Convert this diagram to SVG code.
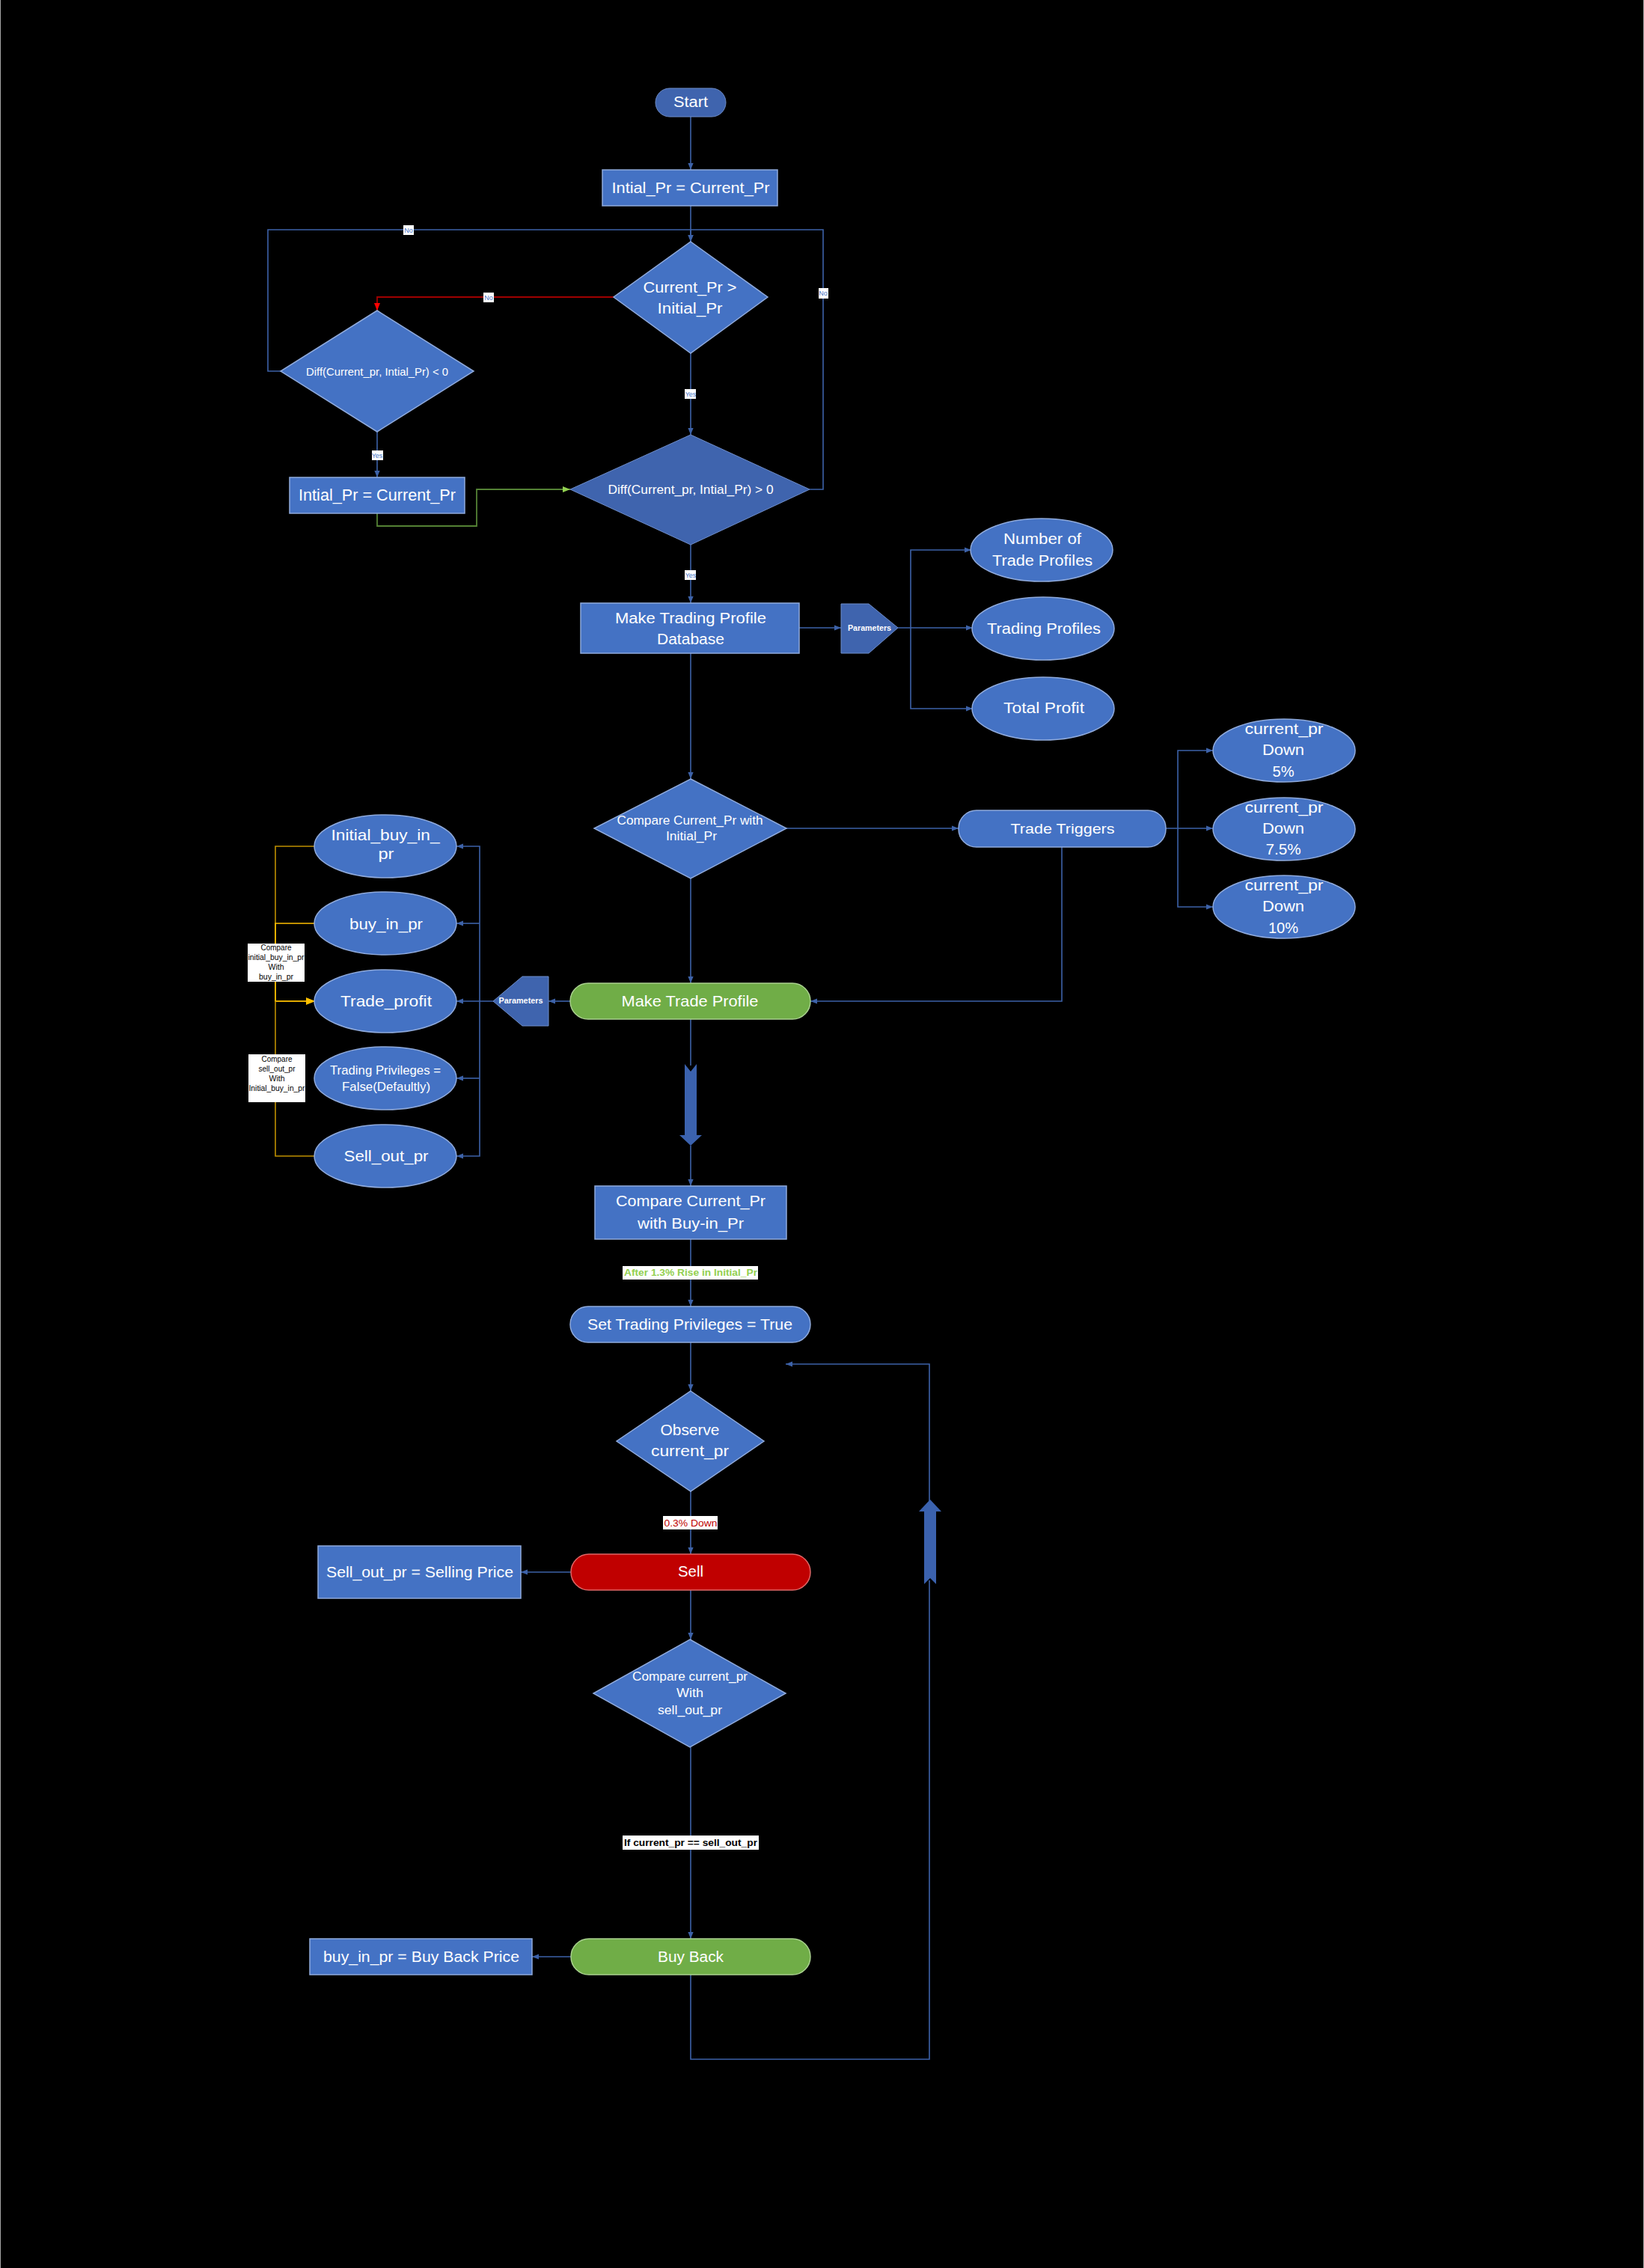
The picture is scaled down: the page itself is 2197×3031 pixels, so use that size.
<svg xmlns="http://www.w3.org/2000/svg" width="2197" height="3031" viewBox="0 0 2197 3031">
<style>
text{font-family:"Liberation Sans","Noto Sans",sans-serif;fill:#fff;text-anchor:middle}
.b{fill:#4472C4;stroke:#8FAADC;stroke-width:1.5}
.d{fill:#3F64AE;stroke:#6F8DC8;stroke-width:1}
.g{fill:#70AD47;stroke:#A9D18E;stroke-width:1.5}
.r{fill:#C00000;stroke:#E06666;stroke-width:1.5}
.c{fill:none;stroke:#3D62A8;stroke-width:1.6}
.lb{fill:#fff;stroke:none}
.s{font-size:10px;font-weight:bold}
.t{fill:#000;font-size:10px}
.n{fill:#4472C4;font-size:9px}
</style>
<defs>
<marker id="ab" viewBox="0 0 10 10" refX="10" refY="5" markerWidth="9" markerHeight="9" markerUnits="userSpaceOnUse" orient="auto"><path d="M0,1 L10,5 L0,9 z" fill="#3D62A8"/></marker>
<marker id="ar" viewBox="0 0 10 10" refX="10" refY="5" markerWidth="10" markerHeight="10" markerUnits="userSpaceOnUse" orient="auto"><path d="M0,1 L10,5 L0,9 z" fill="#FF0000"/></marker>
<marker id="ag" viewBox="0 0 10 10" refX="10" refY="5" markerWidth="10" markerHeight="10" markerUnits="userSpaceOnUse" orient="auto"><path d="M0,1 L10,5 L0,9 z" fill="#92D050"/></marker>
<marker id="ao" viewBox="0 0 10 10" refX="10" refY="5" markerWidth="12" markerHeight="12" markerUnits="userSpaceOnUse" orient="auto"><path d="M0,1 L10,5 L0,9 z" fill="#FFC000"/></marker>
</defs>
<rect x="0" y="0" width="2197" height="3031" fill="#000"/>
<line x1="0.5" y1="0" x2="0.5" y2="3031" stroke="#A6A6A6" stroke-width="1"/>
<line x1="2196.5" y1="0" x2="2196.5" y2="3031" stroke="#A6A6A6" stroke-width="1"/>

<g id="connectors">
<path class="c" d="M923,156 V227" marker-end="url(#ab)"/>
<path class="c" d="M923,275 V323" marker-end="url(#ab)"/>
<path fill="none" stroke="#A00000" stroke-width="1.8" d="M820,397 H504 V415" marker-end="url(#ar)"/>
<path class="c" d="M923,472 V581" marker-end="url(#ab)"/>
<path class="c" d="M375,496 H358 V307 H923 V323" marker-end="url(#ab)"/>
<path class="c" d="M1082,654 H1100 V307 H923"/>
<path class="c" d="M504,577 V638" marker-end="url(#ab)"/>
<path fill="none" stroke="#548235" stroke-width="1.8" d="M504,686 V703 H637 V654 H762" marker-end="url(#ag)"/>
<path class="c" d="M923,728 V806" marker-end="url(#ab)"/>
<path class="c" d="M1068,839 H1124" marker-end="url(#ab)"/>
<path class="c" d="M1200,839 H1300" marker-end="url(#ab)"/>
<path class="c" d="M1217,839 V735 H1298" marker-end="url(#ab)"/>
<path class="c" d="M1217,839 V947 H1300" marker-end="url(#ab)"/>
<path class="c" d="M923,873 V1041" marker-end="url(#ab)"/>
<path class="c" d="M1051,1107 H1281" marker-end="url(#ab)"/>
<path class="c" d="M1558,1107 H1621" marker-end="url(#ab)"/>
<path class="c" d="M1574,1107 V1003 H1621" marker-end="url(#ab)"/>
<path class="c" d="M1574,1107 V1212 H1621" marker-end="url(#ab)"/>
<path class="c" d="M1419,1132 V1338 H1083" marker-end="url(#ab)"/>
<path class="c" d="M923,1174 V1314" marker-end="url(#ab)"/>
<path class="c" d="M762,1338 H733" marker-end="url(#ab)"/>
<path class="c" d="M659,1338 H610" marker-end="url(#ab)"/>
<path class="c" d="M641,1338 V1131 H610" marker-end="url(#ab)"/>
<path class="c" d="M641,1234 H610" marker-end="url(#ab)"/>
<path class="c" d="M641,1338 V1545 H610" marker-end="url(#ab)"/>
<path class="c" d="M641,1441 H610" marker-end="url(#ab)"/>
<path fill="none" stroke="#BF9000" stroke-width="1.6" d="M421,1131 H368 V1338 H421" marker-end="url(#ao)"/>
<path fill="none" stroke="#FFC000" stroke-width="1.6" d="M421,1234 H368 V1338 H421" marker-end="url(#ao)"/>
<path fill="none" stroke="#BF9000" stroke-width="1.6" d="M421,1545 H368 V1338"/>
<path class="c" d="M923,1362 V1424"/>
<path fill="#3B62AE" d="M915,1422 L923,1432 L931,1422 V1517 H938 L923,1531 L908,1517 H915 Z"/>
<path class="c" d="M923,1531 V1585" marker-end="url(#ab)"/>
<path class="c" d="M923,1656 V1746" marker-end="url(#ab)"/>
<path class="c" d="M923,1794 V1859" marker-end="url(#ab)"/>
<path class="c" d="M923,1993 V2077" marker-end="url(#ab)"/>
<path class="c" d="M763,2101 H696" marker-end="url(#ab)"/>
<path class="c" d="M923,2125 V2191" marker-end="url(#ab)"/>
<path class="c" d="M923,2335 V2591" marker-end="url(#ab)"/>
<path class="c" d="M763,2615 H711" marker-end="url(#ab)"/>
<path class="c" d="M923,2639 V2752 H1242 V2112"/>
<path fill="#3B62AE" d="M1235,2117 L1243,2109 L1251,2117 V2020 H1258 L1243,2004 L1228,2020 H1235 Z"/>
<path class="c" d="M1242,2006 V1823 H1050" marker-end="url(#ab)"/>
</g>

<g id="edge-labels">
<rect class="lb" x="539" y="301" width="14" height="13"/><text class="n" x="546" y="311">No</text>
<rect class="lb" x="1094" y="385" width="13" height="14"/><text class="n" x="1100" y="395">No</text>
<rect class="lb" x="646" y="391" width="14" height="13"/><text class="n" x="653" y="401">No</text>
<rect class="lb" x="915" y="520" width="15" height="13"/><text class="n" x="923" y="530">Yes</text>
<rect class="lb" x="497" y="602" width="15" height="13"/><text class="n" x="504" y="612">Yes</text>
<rect class="lb" x="915" y="762" width="15" height="13"/><text class="n" x="923" y="772">Yes</text>
<rect class="lb" x="331" y="1261" width="76" height="51"/>
<text class="t" x="369" y="1270" textLength="41" lengthAdjust="spacingAndGlyphs">Compare</text>
<text class="t" x="369" y="1283" textLength="75" lengthAdjust="spacingAndGlyphs">initial_buy_in_pr</text>
<text class="t" x="369" y="1296" textLength="21" lengthAdjust="spacingAndGlyphs">With</text>
<text class="t" x="369" y="1309" textLength="46" lengthAdjust="spacingAndGlyphs">buy_in_pr</text>
<rect class="lb" x="332" y="1409" width="76" height="64"/>
<text class="t" x="370" y="1419" textLength="41" lengthAdjust="spacingAndGlyphs">Compare</text>
<text class="t" x="370" y="1432" textLength="49" lengthAdjust="spacingAndGlyphs">sell_out_pr</text>
<text class="t" x="370" y="1445" textLength="21" lengthAdjust="spacingAndGlyphs">With</text>
<text class="t" x="370" y="1458" textLength="75" lengthAdjust="spacingAndGlyphs">Initial_buy_in_pr</text>
<rect class="lb" x="832" y="1692" width="181" height="18"/>
<text x="923" y="1705" style="fill:#92D050;font-size:13px;font-weight:bold" textLength="178" lengthAdjust="spacingAndGlyphs">After 1.3% Rise in Initial_Pr</text>
<rect class="lb" x="886" y="2026" width="73" height="18"/>
<text x="923" y="2040" style="fill:#C00000;font-size:13px" textLength="71" lengthAdjust="spacingAndGlyphs">0.3% Down</text>
<rect class="lb" x="832" y="2453" width="182" height="19"/>
<text x="923" y="2467" style="fill:#000;font-size:13px;font-weight:bold" textLength="178" lengthAdjust="spacingAndGlyphs">If current_pr == sell_out_pr</text>
</g>

<g id="start"><rect class="d" x="876" y="118" width="94" height="38" rx="19"/><text x="923" y="143" font-size="20" textLength="46" lengthAdjust="spacingAndGlyphs">Start</text></g>
<g id="init1"><rect class="b" x="805" y="227" width="234" height="48"/><text x="923" y="258" font-size="20" textLength="211" lengthAdjust="spacingAndGlyphs">Intial_Pr = Current_Pr</text></g>
<g id="dec1"><polygon class="b" points="923,323 1026,397 923,472 820,397"/>
<text x="922" y="391" font-size="20" textLength="125" lengthAdjust="spacingAndGlyphs">Current_Pr &gt;</text>
<text x="922" y="419" font-size="20" textLength="87" lengthAdjust="spacingAndGlyphs">Initial_Pr</text></g>
<g id="dec2"><polygon class="b" points="504,415 633,496 504,577 375,496"/>
<text x="504" y="502" font-size="15" textLength="190" lengthAdjust="spacingAndGlyphs">Diff(Current_pr, Intial_Pr) &lt; 0</text></g>
<g id="init2"><rect class="b" x="387" y="638" width="234" height="48"/><text x="504" y="669" font-size="22" textLength="210" lengthAdjust="spacingAndGlyphs">Intial_Pr = Current_Pr</text></g>
<g id="dec3"><polygon class="d" points="923,581 1082,654 923,728 762,654"/>
<text x="923" y="660" font-size="17" textLength="221" lengthAdjust="spacingAndGlyphs">Diff(Current_pr, Intial_Pr) &gt; 0</text></g>
<g id="mtpd"><rect class="b" x="776" y="806" width="292" height="67"/>
<text x="923" y="833" font-size="20" textLength="202" lengthAdjust="spacingAndGlyphs">Make Trading Profile</text>
<text x="923" y="861" font-size="20" textLength="90" lengthAdjust="spacingAndGlyphs">Database</text></g>
<g id="params1"><polygon class="d" points="1124,807 1161,807 1200,839 1161,873 1124,873"/>
<text class="s" x="1162" y="843" textLength="58" lengthAdjust="spacingAndGlyphs">Parameters</text></g>
<g id="e-num"><ellipse class="b" cx="1392" cy="735" rx="95" ry="42"/>
<text x="1393" y="727" font-size="20" textLength="104" lengthAdjust="spacingAndGlyphs">Number of</text>
<text x="1393" y="756" font-size="20" textLength="134" lengthAdjust="spacingAndGlyphs">Trade Profiles</text></g>
<g id="e-tp"><ellipse class="b" cx="1394" cy="840" rx="95" ry="42"/>
<text x="1395" y="847" font-size="20" textLength="152" lengthAdjust="spacingAndGlyphs">Trading Profiles</text></g>
<g id="e-total"><ellipse class="b" cx="1394" cy="947" rx="95" ry="42"/>
<text x="1395" y="953" font-size="20" textLength="108" lengthAdjust="spacingAndGlyphs">Total Profit</text></g>
<g id="dec4"><polygon class="b" points="923,1041 1051,1107 923,1174 794,1107"/>
<text x="922" y="1102" font-size="16" textLength="195" lengthAdjust="spacingAndGlyphs">Compare Current_Pr with</text>
<text x="924" y="1123" font-size="16" textLength="68" lengthAdjust="spacingAndGlyphs">Initial_Pr</text></g>
<g id="triggers"><rect class="b" x="1281" y="1083" width="277" height="49" rx="24"/>
<text x="1420" y="1114" font-size="19" textLength="139" lengthAdjust="spacingAndGlyphs">Trade Triggers</text></g>
<g id="e-5"><ellipse class="b" cx="1716" cy="1003" rx="95" ry="42"/>
<text x="1716" y="981" font-size="20" textLength="105" lengthAdjust="spacingAndGlyphs">current_pr</text>
<text x="1715" y="1009" font-size="20" textLength="56" lengthAdjust="spacingAndGlyphs">Down</text>
<text x="1715" y="1038" font-size="20" textLength="29" lengthAdjust="spacingAndGlyphs">5%</text></g>
<g id="e-75"><ellipse class="b" cx="1716" cy="1108" rx="95" ry="42"/>
<text x="1716" y="1086" font-size="20" textLength="105" lengthAdjust="spacingAndGlyphs">current_pr</text>
<text x="1715" y="1114" font-size="20" textLength="56" lengthAdjust="spacingAndGlyphs">Down</text>
<text x="1715" y="1142" font-size="20" textLength="47" lengthAdjust="spacingAndGlyphs">7.5%</text></g>
<g id="e-10"><ellipse class="b" cx="1716" cy="1212" rx="95" ry="42"/>
<text x="1716" y="1190" font-size="20" textLength="105" lengthAdjust="spacingAndGlyphs">current_pr</text>
<text x="1715" y="1218" font-size="20" textLength="56" lengthAdjust="spacingAndGlyphs">Down</text>
<text x="1715" y="1247" font-size="20" textLength="40" lengthAdjust="spacingAndGlyphs">10%</text></g>
<g id="mtp"><rect class="g" x="762" y="1314" width="321" height="48" rx="24"/>
<text x="922" y="1345" font-size="21" textLength="183" lengthAdjust="spacingAndGlyphs">Make Trade Profile</text></g>
<g id="params2"><polygon class="d" points="733,1305 698,1305 659,1338 698,1371 733,1371"/>
<text class="s" x="696" y="1341" textLength="59" lengthAdjust="spacingAndGlyphs">Parameters</text></g>
<g id="e-ibip"><ellipse class="b" cx="515" cy="1131" rx="95" ry="42"/>
<text x="515" y="1123" font-size="21" textLength="145" lengthAdjust="spacingAndGlyphs">Initial_buy_in_</text>
<text x="516" y="1148" font-size="21" textLength="21" lengthAdjust="spacingAndGlyphs">pr</text></g>
<g id="e-bip"><ellipse class="b" cx="515" cy="1234" rx="95" ry="42"/>
<text x="516" y="1242" font-size="21" textLength="98" lengthAdjust="spacingAndGlyphs">buy_in_pr</text></g>
<g id="e-tprofit"><ellipse class="b" cx="515" cy="1338" rx="95" ry="42"/>
<text x="516" y="1345" font-size="21" textLength="122" lengthAdjust="spacingAndGlyphs">Trade_profit</text></g>
<g id="e-priv"><ellipse class="b" cx="515" cy="1441" rx="95" ry="42"/>
<text x="515" y="1436" font-size="17" textLength="148" lengthAdjust="spacingAndGlyphs">Trading Privileges =</text>
<text x="516" y="1458" font-size="17" textLength="118" lengthAdjust="spacingAndGlyphs">False(Defaultly)</text></g>
<g id="e-sop"><ellipse class="b" cx="515" cy="1545" rx="95" ry="42"/>
<text x="516" y="1552" font-size="21" textLength="113" lengthAdjust="spacingAndGlyphs">Sell_out_pr</text></g>
<g id="cmp-buy"><rect class="b" x="795" y="1585" width="256" height="71"/>
<text x="923" y="1612" font-size="20" textLength="200" lengthAdjust="spacingAndGlyphs">Compare Current_Pr</text>
<text x="923" y="1642" font-size="20" textLength="142" lengthAdjust="spacingAndGlyphs">with Buy-in_Pr</text></g>
<g id="set-priv"><rect class="b" x="762" y="1746" width="321" height="48" rx="24"/>
<text x="922" y="1777" font-size="21" textLength="274" lengthAdjust="spacingAndGlyphs">Set Trading Privileges = True</text></g>
<g id="observe"><polygon class="b" points="923,1859 1021,1926 923,1993 824,1926"/>
<text x="922" y="1918" font-size="21" textLength="79" lengthAdjust="spacingAndGlyphs">Observe</text>
<text x="922" y="1946" font-size="21" textLength="104" lengthAdjust="spacingAndGlyphs">current_pr</text></g>
<g id="sell"><rect class="r" x="763" y="2077" width="320" height="48" rx="24"/>
<text x="923" y="2107" font-size="20" textLength="34" lengthAdjust="spacingAndGlyphs">Sell</text></g>
<g id="sell-price"><rect class="b" x="425" y="2066" width="271" height="70"/>
<text x="561" y="2108" font-size="20" textLength="250" lengthAdjust="spacingAndGlyphs">Sell_out_pr = Selling Price</text></g>
<g id="cmp-sell"><polygon class="b" points="922,2191 1050,2263 922,2335 793,2263"/>
<text x="922" y="2246" font-size="17" textLength="154" lengthAdjust="spacingAndGlyphs">Compare current_pr</text>
<text x="922" y="2268" font-size="17" textLength="36" lengthAdjust="spacingAndGlyphs">With</text>
<text x="922" y="2291" font-size="17" textLength="86" lengthAdjust="spacingAndGlyphs">sell_out_pr</text></g>
<g id="buyback"><rect class="g" x="763" y="2591" width="320" height="48" rx="24"/>
<text x="923" y="2622" font-size="20" textLength="88" lengthAdjust="spacingAndGlyphs">Buy Back</text></g>
<g id="buy-price"><rect class="b" x="414" y="2591" width="297" height="48"/>
<text x="563" y="2622" font-size="20" textLength="262" lengthAdjust="spacingAndGlyphs">buy_in_pr = Buy Back Price</text></g>
</svg>
